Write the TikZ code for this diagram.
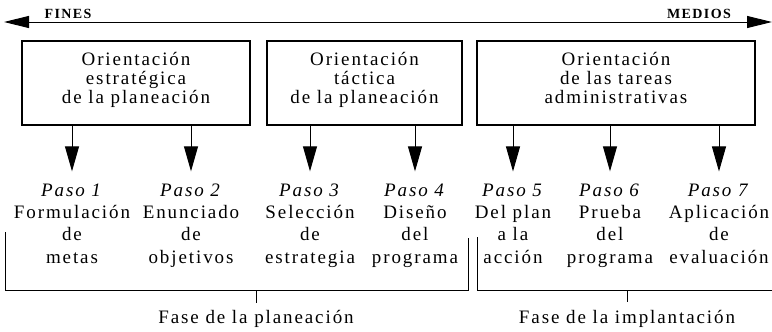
\documentclass[tikz,border=0pt]{standalone}
\usepackage{fontspec}
\setmainfont{Liberation Serif}[LetterSpace=10]
\usetikzlibrary{arrows.meta}
\begin{document}
\begin{tikzpicture}[x=1pt,y=-1pt,
  lw/.style={line width=1pt},
  boxst/.style={draw,line width=1.1pt,inner sep=0pt},
  boxtext/.style={align=center,inner sep=0pt,font=\fontsize{19}{19}\selectfont},
  steptext/.style={align=center,inner sep=0pt,font=\fontsize{19}{22.3}\selectfont},
  fasetext/.style={inner sep=0pt,font=\fontsize{19}{22}\selectfont},
  endtext/.style={inner sep=0pt,font=\fontsize{14}{16}\selectfont\bfseries},
  arr/.style={lw,-{Triangle[length=25pt,width=14pt]}},
  bigarr/.style={lw,{Triangle[length=25pt,width=12pt]}-{Triangle[length=25pt,width=12pt]}}]
\useasboundingbox (0,0) rectangle (772,332);
% top arrow
\coordinate (L) at (4,22);
\coordinate (R) at (772,22);
\draw[bigarr] (L) -- (R);
\node[endtext,anchor=base] (fines) at (68,18) {FINES};
\node[endtext,anchor=base] (medios) at (699,18) {MEDIOS};
% boxes
\node[boxst,minimum width=228pt,minimum height=84pt] (b1) at (136,83) {};
\node[boxst,minimum width=195pt,minimum height=84pt] (b2) at (364.5,83) {};
\node[boxst,minimum width=278pt,minimum height=84pt] (b3) at (616,83) {};
\node[boxtext,anchor=base] (t1) at (136,103) {Orientación\\estratégica\\de la planeación};
\node[boxtext,anchor=base] (t2) at (364.5,103) {Orientación\\táctica\\de la planeación};
\node[boxtext,anchor=base] (t3) at (616,103) {Orientación\\de las tareas\\administrativas};
% steps
\node[steptext,anchor=base] (s1) at (72,263) {\textit{Paso 1}\\Formulación\\de\\metas};
\node[steptext,anchor=base] (s2) at (191,263) {\textit{Paso 2}\\Enunciado\\de\\objetivos};
\node[steptext,anchor=base] (s3) at (310,263) {\textit{Paso 3}\\Selección\\de\\estrategia};
\node[steptext,anchor=base] (s4) at (415,263) {\textit{Paso 4}\\Diseño\\del\\programa};
\node[steptext,anchor=base] (s5) at (513,263) {\textit{Paso 5}\\Del plan\\a la\\acción};
\node[steptext,anchor=base] (s6) at (610,263) {\textit{Paso 6}\\Prueba\\del\\programa};
\node[steptext,anchor=base] (s7) at (719,263) {\textit{Paso 7}\\Aplicación\\de\\evaluación};
% arrows
\draw[arr] (b1.south -| s1) -- ([yshift=12pt]s1.north);
\draw[arr] (b1.south -| s2) -- ([yshift=12pt]s2.north);
\draw[arr] (b2.south -| s3) -- ([yshift=12pt]s3.north);
\draw[arr] (b2.south -| s4) -- ([yshift=12pt]s4.north);
\draw[arr] (b3.south -| s5) -- ([yshift=12pt]s5.north);
\draw[arr] (b3.south -| s6) -- ([yshift=12pt]s6.north);
\draw[arr] (b3.south -| s7) -- ([yshift=12pt]s7.north);
% brackets
\coordinate (p1a) at (5,232);
\coordinate (p1b) at (468,290);
\coordinate (p1c) at (468,238);
\draw[lw] (p1a) |- (p1b) -- (p1c);
\coordinate (p2a) at (477,237);
\coordinate (p2b) at (772,290);
\draw[lw] (p2a) |- (p2b);
\coordinate (k1) at (256,290);
\coordinate (k2) at (627,290);
\draw[lw] (k1) -- ++(0,13);
\draw[lw] (k2) -- ++(0,12);
\node[fasetext,anchor=base] (f1) at (256,323) {Fase de la planeación};
\node[fasetext,anchor=base] (f2) at (627,323) {Fase de la implantación};
\end{tikzpicture}
\end{document}
